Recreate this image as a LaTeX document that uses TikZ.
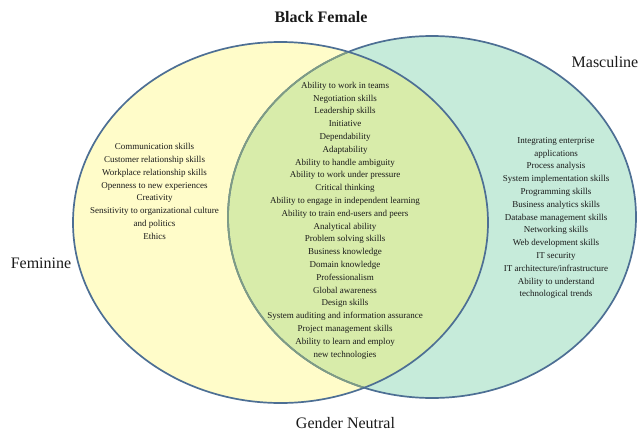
\documentclass[tikz,border=0pt]{standalone}
\usepackage{fontspec}
\setmainfont{Liberation Serif}
\definecolor{fyel}{HTML}{FFFCC9}
\definecolor{fteal}{HTML}{C6EBDA}
\definecolor{fgreen}{HTML}{D8ECAA}
\definecolor{edgeblue}{HTML}{4D6F94}
\definecolor{edgegreen}{HTML}{7F9C84}
\definecolor{txt}{HTML}{1A1A1A}
\begin{document}
\begin{tikzpicture}[x=1pt,y=-1pt,
  skill/.style={align=center,text=txt,inner sep=0pt,font=\fontsize{9}{12.8}\selectfont},
  setlabel/.style={text=txt,inner sep=0pt,font=\fontsize{16}{18}\selectfont},
  rim/.style={draw=edgeblue,line width=1.7pt}]
\useasboundingbox (0,0) rectangle (639,434);
\def\leftell{(280.5,222.5) ellipse [x radius=207.5pt, y radius=180.5pt]}
\def\rightell{(432,217) ellipse [x radius=204pt, y radius=181pt]}
\fill[fyel] \leftell;
\fill[fteal] \rightell;
\begin{scope}
  \clip \leftell;
  \fill[fgreen] \rightell;
\end{scope}
\draw[rim] \rightell;
\begin{scope}
  \clip \leftell;
  \draw[draw=edgegreen,line width=1.7pt] \rightell;
\end{scope}
\draw[rim] \leftell;

\node[setlabel,font=\fontsize{16}{18}\selectfont\bfseries] (title) at (321,17) {Black Female};
\node[setlabel] (masc) at (605,62) {Masculine};
\node[setlabel] (fem) at (41,263) {Feminine};
\node[setlabel] (neut) at (345.5,423) {Gender Neutral};

\node[skill] (femskills) at (154.5,191.5) {Communication skills\\Customer relationship skills\\Workplace relationship skills\\Openness to new experiences\\Creativity\\Sensitivity to organizational culture\\and politics\\Ethics};

\node[skill] (neutskills) at (345,220.5) {Ability to work in teams\\Negotiation skills\\Leadership skills\\Initiative\\Dependability\\Adaptability\\Ability to handle ambiguity\\Ability to work under pressure\\Critical thinking\\Ability to engage in independent learning\\Ability to train end-users and peers\\Analytical ability\\Problem solving skills\\Business knowledge\\Domain knowledge\\Professionalism\\Global awareness\\Design skills\\System auditing and information assurance\\Project management skills\\Ability to learn and employ\\new technologies};

\node[skill] (mascskills) at (556,218) {Integrating enterprise\\applications\\Process analysis\\System implementation skills\\Programming skills\\Business analytics skills\\Database management skills\\Networking skills\\Web development skills\\IT security\\IT architecture/infrastructure\\Ability to understand\\technological trends};
\end{tikzpicture}
\end{document}
